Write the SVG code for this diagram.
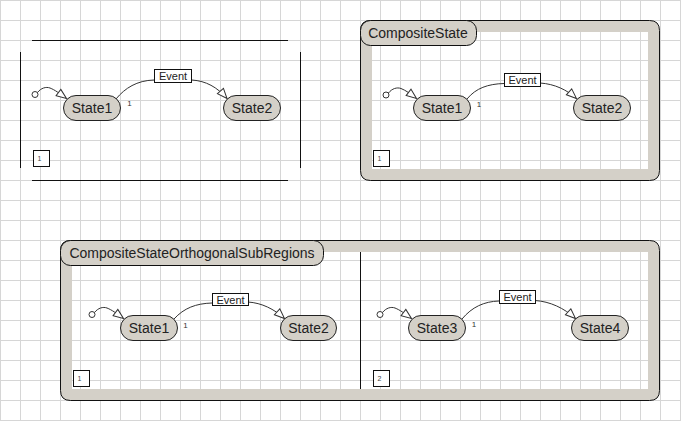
<svg xmlns="http://www.w3.org/2000/svg" width="681" height="421" viewBox="0 0 681 421">
<defs>
<pattern id="grid" x="0" y="0" width="20" height="20" patternUnits="userSpaceOnUse">
<path d="M0.5,0 V20 M0,0.5 H20" stroke="#d6d6d6" stroke-width="1" fill="none"/>
</pattern>
<marker id="open" markerUnits="userSpaceOnUse" markerWidth="12" markerHeight="10" refX="10" refY="4" orient="auto" overflow="visible">
<path d="M0,0 L10,4 L0,8 Z" fill="#ffffff" stroke="#333333" stroke-width="1"/>
</marker>
<style>
.state{fill:#d4d0c8;stroke:#222222;stroke-width:1}
.stxt{font-family:"Liberation Sans",Arial,sans-serif;font-size:14px;fill:#222222;text-anchor:middle}
.frame{fill:#d4d0c8;fill-rule:evenodd;stroke:none}
.fline{fill:none;stroke:#111111;stroke-width:1}
.tab{fill:#d4d0c8;stroke:#111111;stroke-width:1}
.ttxt{font-family:"Liberation Sans",Arial,sans-serif;font-size:14px;fill:#222222;text-anchor:middle}
.init{fill:#ffffff;stroke:#333333;stroke-width:1}
.conn{fill:none;stroke:#333333;stroke-width:1}
.evbox{fill:#ffffff;stroke:#111111;stroke-width:1}
.evtxt{font-family:"Liberation Sans",Arial,sans-serif;font-size:11px;fill:#222222;text-anchor:middle}
.mult{font-family:"Liberation Sans",Arial,sans-serif;font-size:8px;fill:#333333;text-anchor:middle}
.numbox{fill:#ffffff;stroke:#111111;stroke-width:1}
.numtxt{font-family:"Liberation Sans",Arial,sans-serif;font-size:7px;fill:#444444}
.rline{stroke:#111111;stroke-width:1;fill:none}
</style>
</defs>
<rect x="0" y="0" width="681" height="421" fill="#ffffff"/>
<rect x="0" y="0" width="681" height="421" fill="url(#grid)"/>

<!-- Diagram 1: plain region -->
<g id="region1">
<path class="rline" d="M32,40.5 H288 M32,180.5 H288 M20.5,52 V168 M300.5,52 V168"/>
<rect class="numbox" x="33.5" y="150.5" width="16" height="16"/>
<text class="numtxt" x="37.5" y="161">1</text>
</g>

<!-- Diagram 2: CompositeState -->
<g id="compositeState">
<path class="frame" d="M370.5,20.5 H649.5 Q659.5,20.5 659.5,30.5 V170.5 Q659.5,180.5 649.5,180.5 H370.5 Q360.5,180.5 360.5,170.5 V30.5 Q360.5,20.5 370.5,20.5 Z M372,32 V169 H648 V32 Z"/>
<path class="fline" d="M370.5,20.5 H649.5 Q659.5,20.5 659.5,30.5 V170.5 Q659.5,180.5 649.5,180.5 H370.5 Q360.5,180.5 360.5,170.5 V30.5 Q360.5,20.5 370.5,20.5 Z"/>
<rect class="tab" x="360.5" y="20.5" width="116" height="25" rx="10" ry="10"/>
<text class="ttxt" x="418" y="38">CompositeState</text>
<rect class="numbox" x="373.5" y="150.5" width="16" height="16"/>
<text class="numtxt" x="377.5" y="161">1</text>
</g>

<!-- Diagram 3: CompositeStateOrthogonalSubRegions -->
<g id="compositeStateOrthogonalSubRegions">
<path class="frame" d="M70.5,240.5 H649.5 Q659.5,240.5 659.5,250.5 V390.5 Q659.5,400.5 649.5,400.5 H70.5 Q60.5,400.5 60.5,390.5 V250.5 Q60.5,240.5 70.5,240.5 Z M72,252 V389 H648 V252 Z"/>
<path class="fline" d="M70.5,240.5 H649.5 Q659.5,240.5 659.5,250.5 V390.5 Q659.5,400.5 649.5,400.5 H70.5 Q60.5,400.5 60.5,390.5 V250.5 Q60.5,240.5 70.5,240.5 Z"/>
<path class="rline" d="M360.5,252 V389"/>
<rect class="tab" x="60.5" y="240.5" width="263" height="25" rx="10" ry="10"/>
<text class="ttxt" x="192" y="258">CompositeStateOrthogonalSubRegions</text>
<rect class="numbox" x="73.5" y="370.5" width="16" height="16"/>
<text class="numtxt" x="77.5" y="381">1</text>
<rect class="numbox" x="373.5" y="370.5" width="16" height="16"/>
<text class="numtxt" x="377.5" y="381">2</text>
</g>

<!-- Initial pseudostates -->
<g id="init1"><circle class="init" cx="35" cy="94.5" r="3"/></g>
<g id="init2"><circle class="init" cx="386" cy="95" r="3"/></g>
<g id="init3"><circle class="init" cx="92" cy="314.5" r="3"/></g>
<g id="init4"><circle class="init" cx="380" cy="314.5" r="3"/></g>

<!-- Connectors -->
<g id="connectors">
<path class="conn" marker-end="url(#open)" d="M37.5,92.5 C41,88 46,86.5 50,88 C55,90 59,93 66.5,98.5"/>
<path class="conn" marker-end="url(#open)" d="M116,99 C125,88 137,80.5 154,80 L192,80 C206,81 217,87 227,98.5"/>

<path class="conn" marker-end="url(#open)" d="M388.5,93 C392,88.5 397,87 401,88.5 C406,90.5 410,93.5 416.5,98.5"/>
<path class="conn" marker-end="url(#open)" d="M467,99 C476,88 488,84 504,83.5 L540,83 C555,84 567,90 576.5,98.5"/>

<path class="conn" marker-end="url(#open)" d="M94.5,312.5 C98,308 103,306.5 107,308 C112,310 116,313 123.5,318.5"/>
<path class="conn" marker-end="url(#open)" d="M174,319 C184,308 196,303.5 212,303 L248,302 C262,303 274,309 284.5,318.5"/>

<path class="conn" marker-end="url(#open)" d="M382.5,312.5 C386,308 391,306.5 395,308 C400,310 404,313 411.5,318.5"/>
<path class="conn" marker-end="url(#open)" d="M462,319 C472,307 484,301.5 499,301 L535,300.5 C550,301.5 564,308 575.5,318.5"/>

<rect class="evbox" x="154.5" y="69.5" width="37" height="13"/>
<text class="evtxt" x="173" y="80">Event</text>
<text class="mult" x="129.5" y="106">1</text>

<rect class="evbox" x="504.5" y="73.5" width="36" height="13"/>
<text class="evtxt" x="522.5" y="84">Event</text>
<text class="mult" x="479" y="106.5">1</text>

<rect class="evbox" x="212.5" y="293.5" width="36" height="12"/>
<text class="evtxt" x="230.5" y="303.5">Event</text>
<text class="mult" x="185.5" y="327.5">1</text>

<rect class="evbox" x="499.5" y="290.5" width="36" height="13"/>
<text class="evtxt" x="517.5" y="301">Event</text>
<text class="mult" x="474" y="326.5">1</text>
</g>

<!-- States -->
<g id="d1-state1"><rect class="state" x="63.5" y="95.5" width="57" height="25" rx="12.5" ry="12.5"/><text class="stxt" x="92" y="113">State1</text></g>
<g id="d1-state2"><rect class="state" x="223.5" y="95.5" width="57" height="25" rx="12.5" ry="12.5"/><text class="stxt" x="252" y="113">State2</text></g>

<g id="d2-state1"><rect class="state" x="413.5" y="95.5" width="57" height="25" rx="12.5" ry="12.5"/><text class="stxt" x="442" y="113">State1</text></g>
<g id="d2-state2"><rect class="state" x="573.5" y="95.5" width="57" height="25" rx="12.5" ry="12.5"/><text class="stxt" x="602" y="113">State2</text></g>

<g id="d3-state1"><rect class="state" x="120.5" y="315.5" width="57" height="25" rx="12.5" ry="12.5"/><text class="stxt" x="149" y="333">State1</text></g>
<g id="d3-state2"><rect class="state" x="280.5" y="315.5" width="56" height="25" rx="12.5" ry="12.5"/><text class="stxt" x="308.5" y="333">State2</text></g>
<g id="d3-state3"><rect class="state" x="408.5" y="315.5" width="57" height="25" rx="12.5" ry="12.5"/><text class="stxt" x="437" y="333">State3</text></g>
<g id="d3-state4"><rect class="state" x="571.5" y="315.5" width="57" height="25" rx="12.5" ry="12.5"/><text class="stxt" x="600" y="333">State4</text></g>
</svg>
